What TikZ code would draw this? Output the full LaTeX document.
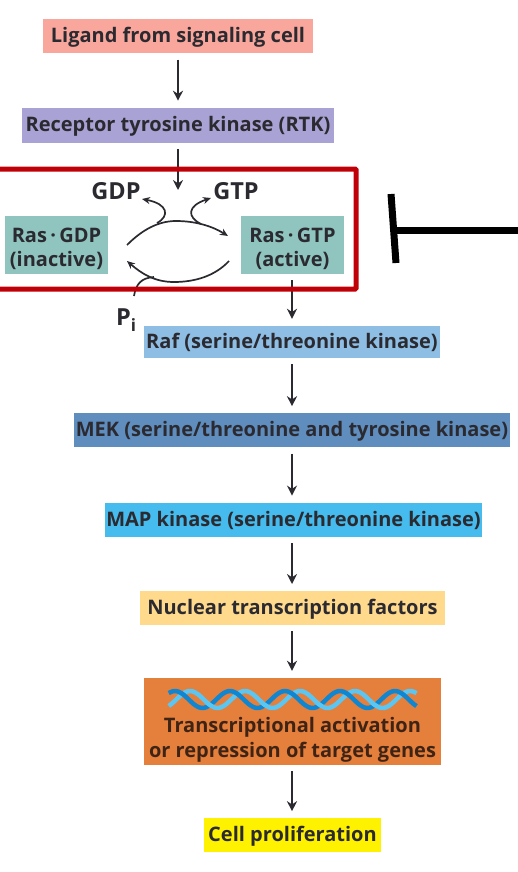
\documentclass[tikz,border=0pt]{standalone}
\usepackage{fontspec}
\setmainfont{Open Sans}
\usetikzlibrary{arrows.meta,positioning}
\definecolor{cInk}{HTML}{2B2A30}
\definecolor{cBrown}{HTML}{3F2416}
\definecolor{cLigand}{HTML}{F9A79C}
\definecolor{cRtk}{HTML}{A9A2D4}
\definecolor{cRas}{HTML}{90C5BF}
\definecolor{cRaf}{HTML}{8EBEE4}
\definecolor{cMek}{HTML}{5F8DBE}
\definecolor{cMap}{HTML}{45BBEE}
\definecolor{cNuc}{HTML}{FFD98C}
\definecolor{cGene}{HTML}{E57F3C}
\definecolor{cCell}{HTML}{FFF200}
\definecolor{cRed}{HTML}{C00008}
\definecolor{cDnaD}{HTML}{0F86D2}
\definecolor{cDnaL}{HTML}{5CC6F2}
\tikzset{
  lbl/.style={inner sep=0pt, text=cInk, font=\fontsize{20}{24}\selectfont\bfseries, align=center},
  bar/.style={inner sep=0pt, text=cInk, font=\fontsize{20}{24}\selectfont\bfseries, minimum height=34pt, text height=16pt, text depth=3pt},
  ras/.style={lbl, fill=cRas, minimum width=103pt, minimum height=58pt},
  big/.style={lbl, font=\fontsize{23.5}{28}\selectfont\bfseries},
  flow/.style={-{Stealth[length=10pt,width=10pt]}, line width=1.8pt, draw=cInk, shorten <=6pt, shorten >=7pt},
  curv/.style={-{Stealth[length=8pt,width=7pt]}, line width=1.7pt, draw=cInk},
  curvn/.style={line width=1.7pt, draw=cInk},
  inhib/.style={line width=7pt, draw=black},
}
\begin{document}
\begin{tikzpicture}[x=1pt,y=-1pt]
\useasboundingbox (0,0) rectangle (518,872);
\node[bar, fill=cLigand, minimum width=270pt] (ligand) at (178,36.5) {Ligand from signaling cell};
\node[bar, fill=cRtk, minimum width=312pt, minimum height=35pt, below=54pt of ligand] (rtk) {Receptor tyrosine kinase (RTK)};
\node[ras] (rasgdp) at (56.5,245) {\rule{0pt}{22pt}Ras\,·\,GDP\\(inactive)};
\node[ras] (rasgtp) at (292.5,245) {\rule{0pt}{22pt}Ras\,·\,GTP\\(active)};
\node[bar, fill=cRaf, minimum width=296pt, minimum height=32pt] (raf) at (292,342) {Raf (serine/threonine kinase)};
\node[bar, fill=cMek, minimum width=436pt, below=55pt of raf] (mek) {MEK (serine/threonine and tyrosine kinase)};
\node[bar, fill=cMap, minimum width=377pt, below=55pt of mek, xshift=1.5pt] (mapk) {MAP kinase (serine/threonine kinase)};
\node[bar, fill=cNuc, minimum width=305pt, below=54pt of mapk, xshift=-1pt] (nuc) {Nuclear transcription factors};
\node[lbl, fill=cGene, minimum width=297pt, minimum height=87pt] (gene) at (292.5,721.5) {};
\node[lbl, text=cBrown, font=\fontsize{20}{25}\selectfont\bfseries] (genetxt) at (292.5,740) {Transcriptional activation\\or repression of target genes};
\node[bar, fill=cCell, minimum width=177pt, below=53pt of gene] (cell) {Cell proliferation};
\node[big] (gdp) at (116,191) {GDP};
\node[big] (gtp) at (236,191) {GTP};
\node[big] (pi) at (126,320) {P\raisebox{-.5ex}{\fontsize{17}{17}\selectfont i}};
% helix
\foreach \a/\pa/\ca/\pb/\cb in {0/190/cDnaL/175/cDnaD,1/175/cDnaD/190/cDnaL,2/190/cDnaL/175/cDnaD,3/175/cDnaD/190/cDnaL,4/190/cDnaL/175/cDnaD,5/175/cDnaD/190/cDnaL,6/190/cDnaL/175/cDnaD,7/175/cDnaD/190/cDnaL,8/190/cDnaL/175/cDnaD}{
  \draw[line width=4.5pt, draw=\ca] plot[domain=\a*27.5+168.75:\a*27.5+196.5, samples=12] (\x,{699.5-8.5*cos((\x-\pa)*6.545)});
  \draw[line width=4.5pt, draw=\cb] plot[domain=\a*27.5+168.75:\a*27.5+196.5, samples=12] (\x,{699.5-8.5*cos((\x-\pb)*6.545)});
}
% connectors
\coordinate (rasin) at (rtk.south|-0,197);
\draw[flow] (ligand) -- (rtk);
\draw[flow] (rtk) -- (rasin);
\draw[flow] (raf.north|-rasgtp.south) -- (raf.north);
\draw[flow] (raf.south) -- (raf.south|-mek.north);
\draw[flow] (raf.south|-mek.south) -- (raf.south|-mapk.north);
\draw[flow] (raf.south|-mapk.south) -- (raf.south|-nuc.north);
\draw[flow] (raf.south|-nuc.south) -- (raf.south|-gene.north);
\draw[flow] (raf.south|-gene.south) -- (raf.south|-cell.north);
% Ras cycle
\coordinate (topL) at (127,245);
\coordinate (topM) at (176,221);
\coordinate (topR) at (228,236);
\coordinate (botR) at (229,261);
\coordinate (botM) at (174,282);
\coordinate (botL) at (127,261);
\coordinate (gdpEnd) at (142,199);
\coordinate (gtpEnd) at (211,198);
\coordinate (piEnd) at (134,296);
\draw[curvn] (topL) .. controls (142,230) and (158,221) .. (topM);
\draw[curv] (topM) .. controls (195,221) and (212,226) .. (topR);
\draw[curvn] (botR) .. controls (215,276) and (195,282) .. (botM);
\draw[curv] (botM) .. controls (155,282) and (142,274) .. (botL);
\draw[curv] (157,223) .. controls (170,216) and (168,204) .. (gdpEnd);
\draw[curv] (201,224) .. controls (187,217) and (187,206) .. (gtpEnd);
\draw[curvn] (piEnd) .. controls (136,284) and (141,278) .. (154,277);
% red frame runs off the left edge
\coordinate (frameL) at (-5,169);
\coordinate (frameR) at (356,289);
\draw[line width=5pt, draw=cRed, rounded corners=1pt] (frameL) rectangle (frameR);
% inhibition
\coordinate (inhibT) at (391,194);
\coordinate (inhibB) at (396,263);
\coordinate (inhibE) at (518,230);
\draw[inhib] (inhibT) -- (inhibB);
\draw[inhib] (inhibE) -- (inhibE-|393.5,0);
\end{tikzpicture}
\end{document}
